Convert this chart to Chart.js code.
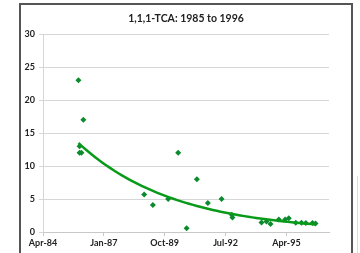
<!DOCTYPE html>
<html>
<head>
<meta charset="utf-8">
<script src="https://cdn.jsdelivr.net/npm/chart.js@4.4.1/dist/chart.umd.min.js"></script>
<style>
  html, body { margin: 0; padding: 0; background: #fff; }
  #wrap { position: relative; width: 360px; height: 253px; overflow: hidden; }
  #c { position: absolute; left: 0; top: 0; }
  #frame { position: absolute; left: 19px; top: 3px; width: 330px; height: 300px;
           border: 2px solid #555; pointer-events: none; }
  #edge { position: absolute; left: 357px; top: 176px; width: 1px; height: 80px; background: #ddd; }
</style>
</head>
<body>
<div id="wrap">
  <canvas id="c" width="360" height="253"></canvas>
  <div id="frame"></div>
  <div id="edge"></div>
</div>
<script>
// ---- data ----
const title = "1,1,1-TCA: 1985 to 1996";
const sampleDates = [
  "1985-12-01", "1985-12-20", "1985-12-20", "1986-01-20", "1986-02-20",
  "1988-11-16", "1989-04-08", "1989-12-15", "1990-05-29", "1990-10-14",
  "1991-04-01", "1991-09-28", "1992-05-10", "1992-10-25", "1992-11-05",
  "1994-02-26", "1994-05-19", "1994-07-24", "1994-12-07", "1995-03-21",
  "1995-05-20", "1995-09-12", "1995-12-15", "1996-02-24", "1996-06-13",
  "1996-08-01"
];
const concentrations = [
  23.0, 13.0, 12.0, 12.0, 17.0,
  5.7, 4.1, 5.0, 12.0, 0.55,
  8.0, 4.4, 5.0, 2.6, 2.2,
  1.45, 1.6, 1.2, 1.9, 1.9,
  2.1, 1.4, 1.4, 1.35, 1.35,
  1.3
];
const xTickSerials = [30800, 31800, 32800, 33800, 34800];
const xMin = 30800, xMax = 35500;
const yTicks = [0, 5, 10, 15, 20, 25, 30];

// ---- helpers ----
const EPOCH = Date.UTC(1899, 11, 30);
function toSerial(s) {
  const [y, m, d] = s.split("-").map(Number);
  return Math.round((Date.UTC(y, m - 1, d) - EPOCH) / 86400000);
}
const MONTHS = ["Jan","Feb","Mar","Apr","May","Jun","Jul","Aug","Sep","Oct","Nov","Dec"];
function fmtSerial(v) {
  const d = new Date(EPOCH + v * 86400000);
  return MONTHS[d.getUTCMonth()] + "-" + String(d.getUTCFullYear() % 100).padStart(2, "0");
}

const points = sampleDates.map((s, i) => ({ x: toSerial(s), y: concentrations[i] }));

// Exponential trendline (least squares on ln y, as a spreadsheet does)
const n = points.length;
let sx = 0, sy = 0, sxx = 0, sxy = 0;
points.forEach(p => { const ly = Math.log(p.y); sx += p.x; sy += ly; sxx += p.x * p.x; sxy += p.x * ly; });
const b = (n * sxy - sx * sy) / (n * sxx - sx * sx);
const a = (sy - b * sx) / n;
const xs = points.map(p => p.x);
const tMin = Math.min(...xs), tMax = Math.max(...xs);
const trend = [];
for (let i = 0; i <= 60; i++) {
  const x = tMin + (tMax - tMin) * i / 60;
  trend.push({ x: x, y: Math.exp(a + b * x) });
}

const FONT = "Lato, 'Open Sans', sans-serif";

const titlePlugin = {
  id: "centerTitle",
  afterDraw(chart) {
    const ctx = chart.ctx, ca = chart.chartArea;
    ctx.save();
    ctx.fillStyle = "#222";
    ctx.font = "bold 10.5px " + FONT;
    ctx.textAlign = "center";
    ctx.textBaseline = "middle";
    ctx.fillText(title, (ca.left + ca.right) / 2, 19);
    ctx.restore();
  }
};

new Chart(document.getElementById("c"), {
  type: "scatter",
  data: {
    datasets: [
      {
        label: "Trend",
        type: "line",
        data: trend,
        borderColor: "#0a9a1a",
        borderWidth: 2.5,
        pointRadius: 0,
        fill: false,
        tension: 0
      },
      {
        label: "1,1,1-TCA",
        data: points,
        backgroundColor: "#0b8a2e",
        borderColor: "#0b8a2e",
        pointStyle: "rectRot",
        pointRadius: 3,
        borderWidth: 0
      }
    ]
  },
  plugins: [titlePlugin],
  options: {
    responsive: false,
    animation: false,
    layout: { padding: { left: 0, right: 31, top: 34, bottom: 0 } },
    plugins: {
      legend: { display: false },
      tooltip: { enabled: false },
      title: { display: false }
    },
    scales: {
      x: {
        type: "linear",
        min: xMin,
        max: xMax,
        afterBuildTicks: s => { s.ticks = xTickSerials.map(v => ({ value: v })); },
        afterFit: s => { s.height = 21; },
        ticks: {
          callback: v => fmtSerial(v),
          color: "#222",
          font: { family: FONT, size: 9, weight: "bold" },
          padding: 2,
          maxRotation: 0,
          autoSkip: false
        },
        grid: { drawOnChartArea: false, drawTicks: true, tickLength: 4, color: "#c8c8c8" },
        border: { display: true, color: "#c8c8c8", width: 1 }
      },
      y: {
        min: 0,
        max: 30,
        afterBuildTicks: s => { s.ticks = yTicks.map(v => ({ value: v })); },
        afterFit: s => { s.width = 43; },
        ticks: {
          color: "#222",
          font: { family: FONT, size: 9, weight: "bold" },
          padding: 4
        },
        grid: { color: "#d6d6d6", tickLength: 4 },
        border: { display: true, color: "#d6d6d6", width: 1 }
      }
    }
  }
});
</script>
</body>
</html>
